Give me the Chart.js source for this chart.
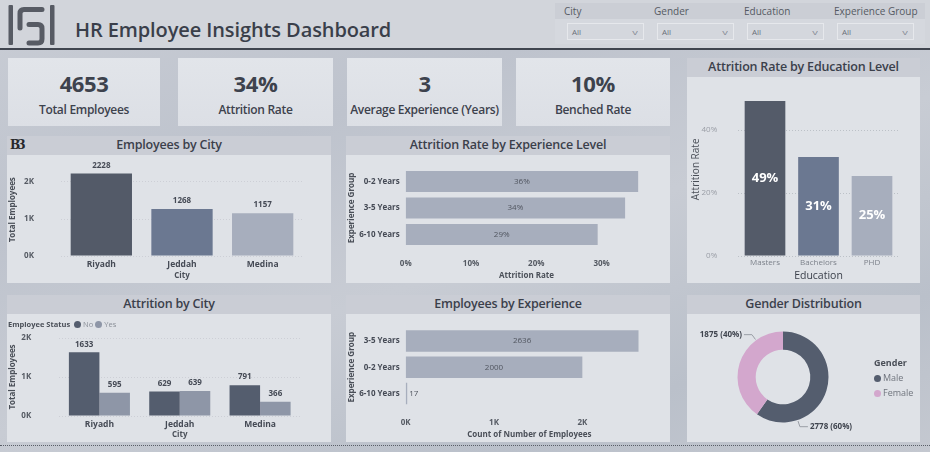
<!DOCTYPE html>
<html><head><meta charset="utf-8">
<script src="https://cdn.jsdelivr.net/npm/chart.js@4.4.0/dist/chart.umd.min.js"></script>
<style>
html,body{margin:0;padding:0;}
body{width:930px;height:452px;overflow:hidden;position:relative;font-family:'Open Sans',sans-serif;color:#3b404b;
 background:linear-gradient(160deg,#c9cdd5 0%,#bec3cd 30%,#c8ccd4 55%,#bac0ca 80%,#c4c8d0 100%);}
#header{position:absolute;left:0;top:0;width:930px;height:48px;background:#d2d5db;border-bottom:2px solid #40454f;}
#logo{position:absolute;left:4px;top:2px;}
#title{position:absolute;left:75px;top:16px;font-size:20px;font-weight:600;color:#3a3f4a;white-space:nowrap;letter-spacing:-0.1px;}
#filters{position:absolute;left:555px;top:3px;width:370px;height:41px;background:#d5d8de;}
#filterStrip{position:absolute;left:0;top:0;width:370px;height:16px;background:#cbced5;}
.flabel{position:absolute;top:1px;font-size:10px;color:#555a63;font-weight:400;white-space:nowrap;}
.fbox{position:absolute;top:20px;width:77px;height:17px;border:1px solid #e6e8ec;box-sizing:border-box;background:#d4d7dd;font-size:8px;color:#6a6f78;line-height:16px;padding-left:4px;}
.fbox span{position:absolute;right:6px;top:0;color:#8a8f98;font-size:8px;transform:scaleX(1.4);}
.kpi{position:absolute;top:58px;height:68px;background:linear-gradient(180deg,#e2e5ea,#dcdfe5);text-align:center;}
.kval{position:absolute;left:0;right:0;top:10px;font-size:22px;font-weight:700;color:#3d424d;letter-spacing:-0.4px;}
.klab{position:absolute;left:0;right:0;top:43px;font-size:12px;font-weight:600;color:#3d424d;letter-spacing:-0.3px;white-space:nowrap;}
.panel{position:absolute;background:#dfe2e7;}
.ptitle{position:absolute;left:0;top:0;right:0;height:19px;background:#cacdd5;text-align:center;font-size:12.5px;font-weight:600;color:#3b404b;line-height:18px;letter-spacing:-0.2px;white-space:nowrap;}
canvas{position:absolute;}
#dots{position:absolute;left:0;top:445px;width:930px;border-top:1px dotted #5a5f68;}
.leg{position:absolute;font-size:8px;white-space:nowrap;}
.dot{display:inline-block;width:7px;height:7px;border-radius:50%;vertical-align:-1px;margin-right:2px;}
</style></head><body>
<div id="header">
 <svg id="logo" width="54" height="46" viewBox="0 0 54 46">
  <rect x="4.5" y="3" width="4.5" height="40" rx="1" fill="#575b64"/>
  <path d="M38 7.5 H20 Q16 7.5 16 11.5 V26" stroke="#575b64" stroke-width="5" fill="none" stroke-linecap="round"/>
  <path d="M25 22.5 H34 Q38 22.5 38 26.5 V37 Q38 41 34 41 H25" stroke="#575b64" stroke-width="5" fill="none" stroke-linecap="round"/>
  <rect x="46" y="3" width="4.5" height="40" rx="1" fill="#575b64"/>
 </svg>
 <div id="title">HR Employee Insights Dashboard</div>
 <div id="filters"><div id="filterStrip"></div></div>
</div>
<div id="dots"></div>

<div class="kpi" id="k0" style="left:8px;width:152px"></div>
<div class="kpi" id="k1" style="left:178px;width:155px"></div>
<div class="kpi" id="k2" style="left:347px;width:155px"></div>
<div class="kpi" id="k3" style="left:516px;width:154px"></div>

<div class="panel" style="left:7px;top:136px;width:324px;height:147px">
 <div class="ptitle">Employees by City</div>
 <div style="position:absolute;left:3px;top:2px;font-family:'DejaVu Serif',serif;font-weight:bold;font-size:12px;color:#26282c;letter-spacing:-3px;">B3</div>
 <canvas id="c1" width="324" height="128" style="left:0;top:19px"></canvas>
</div>
<div class="panel" style="left:346px;top:136px;width:324px;height:147px">
 <div class="ptitle">Attrition Rate by Experience Level</div>
 <canvas id="c2" width="324" height="128" style="left:0;top:19px"></canvas>
</div>
<div class="panel" style="left:687px;top:58px;width:233px;height:225px">
 <div class="ptitle">Attrition Rate by Education Level</div>
 <canvas id="c3" width="233" height="206" style="left:0;top:19px"></canvas>
</div>
<div class="panel" style="left:7px;top:295px;width:324px;height:147px">
 <div class="ptitle">Attrition by City</div>
 <canvas id="c4" width="324" height="128" style="left:0;top:19px"></canvas>
 <div class="leg" style="left:1px;top:24px;font-size:7.5px;"><b style="color:#4a4f58">Employee Status</b> <span class="dot" style="background:#545d6e;margin-left:2px"></span><span style="color:#8a8f98">No</span> <span class="dot" style="background:#8e96a7"></span><span style="color:#8a8f98">Yes</span></div>
</div>
<div class="panel" style="left:346px;top:295px;width:324px;height:147px">
 <div class="ptitle">Employees by Experience</div>
 <canvas id="c5" width="324" height="128" style="left:0;top:19px"></canvas>
</div>
<div class="panel" style="left:687px;top:295px;width:233px;height:147px">
 <div class="ptitle">Gender Distribution</div>
 <canvas id="c6" width="233" height="128" style="left:0;top:19px"></canvas>
 <div class="leg" style="left:187px;top:60px;font-size:9px;line-height:15px;">
  <b style="color:#4a4f58">Gender</b><br>
  <span class="dot" style="background:#545d6e"></span><span style="color:#6f747d">Male</span><br>
  <span class="dot" style="background:#d3a7cd"></span><span style="color:#6f747d">Female</span>
 </div>
</div>

<script>
// ---------- DATA ----------
const kpiValues = ['4653', '34%', '3', '10%'];
const kpiLabels = ['Total Employees', 'Attrition Rate', 'Average Experience (Years)', 'Benched Rate'];
const filterNames = ['City', 'Gender', 'Education', 'Experience Group'];
const filterValues = ['All', 'All', 'All', 'All'];

const cities = ['Riyadh', 'Jeddah', 'Medina'];
const employeesByCity = [2228, 1268, 1157];
const cityCountTicks = [0, 1000, 2000];

const expGroupsRate = ['0-2 Years', '3-5 Years', '6-10 Years'];
const attritionRateByExp = [0.356, 0.336, 0.294];
const expRateTicks = [0, 0.1, 0.2, 0.3];

const educationLevels = ['Masters', 'Bachelors', 'PHD'];
const attritionRateByEdu = [0.492, 0.314, 0.254];
const eduRateTicks = [0, 0.2, 0.4];

const attritionNo = [1633, 629, 791];
const attritionYes = [595, 639, 366];
const attritionTicks = [0, 1000, 2000];

const expGroupsCount = ['3-5 Years', '0-2 Years', '6-10 Years'];
const employeesByExp = [2636, 2000, 17];
const expCountTicks = [0, 1000, 2000];

const genders = ['Male', 'Female'];
const genderCounts = [2778, 1875];

// ---------- HTML bits ----------
kpiValues.forEach((v, i) => {
  const k = document.getElementById('k' + i);
  k.innerHTML = '<div class="kval">' + v + '</div><div class="klab">' + kpiLabels[i] + '</div>';
});
const fp = document.getElementById('filters');
filterNames.forEach((n, i) => {
  const l = document.createElement('div'); l.className = 'flabel'; l.style.left = (9 + i * 90) + 'px'; l.textContent = n; fp.appendChild(l);
  const b = document.createElement('div'); b.className = 'fbox'; b.style.left = (12 + i * 90) + 'px';
  b.innerHTML = filterValues[i] + '<span>v</span>'; fp.appendChild(b);
});

// ---------- Chart helpers ----------
Chart.defaults.font.family = "'Open Sans', sans-serif";
Chart.defaults.animation = false;
Chart.defaults.plugins.legend.display = false;
Chart.defaults.plugins.tooltip.enabled = false;

const barLabels = {
  id: 'barLabels',
  afterDatasetsDraw(chart, args, o) {
    if (!o || !o.mode) return;
    const ctx = chart.ctx;
    chart.data.datasets.forEach((ds, di) => {
      const meta = chart.getDatasetMeta(di);
      meta.data.forEach((el, i) => {
        const v = ds.data[i];
        const txt = o.format ? o.format(v) : String(v);
        ctx.save();
        ctx.font = o.font; ctx.fillStyle = o.color; ctx.textBaseline = 'middle';
        let x, y;
        if (o.mode === 'top') { ctx.textAlign = 'center'; x = el.x; y = el.y - o.offset; }
        else if (o.mode === 'vcenter') { ctx.textAlign = 'center'; x = el.x; y = (el.y + el.base) / 2; }
        else {
          y = el.y;
          if (el.x - el.base < o.minWidth) { ctx.textAlign = 'left'; x = el.x + 2; }
          else { ctx.textAlign = 'center'; x = (el.x + el.base) / 2; }
        }
        ctx.fillText(txt, x, y);
        ctx.restore();
      });
    });
  }
};
const donutLabels = {
  id: 'donutLabels',
  afterDatasetsDraw(chart, args, o) {
    if (!o || !o.show) return;
    const ctx = chart.ctx;
    const ds = chart.data.datasets[0];
    const total = ds.data.reduce((a, b) => a + b, 0);
    chart.getDatasetMeta(0).data.forEach((arc, i) => {
      const a = arc.startAngle + 0.75 * (arc.endAngle - arc.startAngle);
      const r = arc.outerRadius;
      const ax = arc.x + Math.cos(a) * (r + 1), ay = arc.y + Math.sin(a) * (r + 1);
      const ex = arc.x + Math.cos(a) * (r + 7), ey = arc.y + Math.sin(a) * (r + 7);
      const dir = Math.cos(a) >= 0 ? 1 : -1;
      const hx = ex + dir * 8;
      ctx.save();
      ctx.strokeStyle = '#9a9ea6'; ctx.lineWidth = 1;
      ctx.beginPath(); ctx.moveTo(ax, ay); ctx.lineTo(ex, ey); ctx.lineTo(hx, ey); ctx.stroke();
      ctx.font = 'bold 8px "Open Sans"'; ctx.fillStyle = '#3f444e'; ctx.textBaseline = 'middle';
      ctx.textAlign = dir > 0 ? 'left' : 'right';
      const v = ds.data[i];
      ctx.fillText(v + ' (' + Math.round(v / total * 100) + '%)', hx + dir * 2, ey);
      ctx.restore();
    });
  }
};
Chart.register(barLabels, donutLabels);

const tickFont = { size: 8, weight: 'bold' };
const axisTitle = (t, pad) => ({ display: true, text: t, color: '#4a4f58', font: { size: 8, weight: 'bold' }, padding: pad });
const useTicks = arr => s => { s.ticks = arr.map(v => ({ value: v })); };
const kFmt = v => (v / 1000) + 'K';
const pFmt = v => Math.round(v * 100) + '%';
const fixW = w => s => { s.width = w; s.paddingTop = 0; s.paddingBottom = 0; };
const fixH = h => s => { s.height = h; s.paddingLeft = 0; s.paddingRight = 0; };
const noGrid = { display: false, drawTicks: false };
const dotGrid = { color: 'rgba(110,115,125,0.3)', drawTicks: false };
const faintGrid = { color: 'rgba(110,115,125,0.16)', drawTicks: false };

// Employees by City
new Chart(document.getElementById('c1'), {
  type: 'bar',
  data: { labels: cities, datasets: [{ data: employeesByCity, backgroundColor: ['#535a68', '#6b7891', '#a7aebd'], barPercentage: 0.76, categoryPercentage: 1 }] },
  options: {
    responsive: false,
    layout: { padding: { top: 8.5, right: 28, left: 0, bottom: 0 } },
    plugins: { barLabels: { mode: 'top', offset: 8, color: '#454a55', font: 'bold 8px "Open Sans"' } },
    scales: {
      x: { grid: noGrid, border: { display: false }, ticks: { color: '#454a55', font: { size: 8.5, weight: 'bold' }, padding: 3 },
        title: axisTitle('City', { top: 0, bottom: 2 }), afterFit: fixH(27) },
      y: { min: 0, max: 2500, ticks: { autoSkip: false, padding: 27, color: '#555a63', font: tickFont, callback: kFmt },
        afterBuildTicks: useTicks(cityCountTicks),
        grid: faintGrid, border: { display: false, dash: [1, 2] },
        title: axisTitle('Total Employees', { top: 1, bottom: 0 }), afterFit: fixW(54) }
    }
  }
});

// Attrition Rate by Experience Level
new Chart(document.getElementById('c2'), {
  type: 'bar',
  data: { labels: expGroupsRate, datasets: [{ data: attritionRateByExp, backgroundColor: '#a7aebd', barPercentage: 0.8, categoryPercentage: 1 }] },
  options: {
    responsive: false, indexAxis: 'y',
    layout: { padding: { top: 13.25, right: 22.7, left: 0, bottom: 0 } },
    plugins: { barLabels: { mode: 'hcenter', minWidth: 20, color: '#50555f', font: '8px "Open Sans"', format: pFmt } },
    scales: {
      x: { min: 0, max: 0.37, ticks: { autoSkip: false, padding: 11, color: '#555a63', font: tickFont, callback: pFmt },
        afterBuildTicks: useTicks(expRateTicks), grid: noGrid, border: { display: false },
        title: axisTitle('Attrition Rate', { top: 0, bottom: 2 }), afterFit: fixH(35.25) },
      y: { grid: noGrid, border: { display: false }, ticks: { padding: 6, color: '#454a55', font: tickFont },
        title: axisTitle('Experience Group', { top: 1, bottom: 0 }), afterFit: fixW(59.7) }
    }
  }
});

// Attrition Rate by Education Level
new Chart(document.getElementById('c3'), {
  type: 'bar',
  data: { labels: educationLevels, datasets: [{ data: attritionRateByEdu, backgroundColor: ['#545b69', '#6b7891', '#a7aebd'], barPercentage: 0.76, categoryPercentage: 1 }] },
  options: {
    responsive: false,
    layout: { padding: { top: 5.75, right: 21.25, left: 0, bottom: 0 } },
    plugins: { barLabels: { mode: 'vcenter', color: '#ffffff', font: 'bold 13px "Open Sans"', format: pFmt } },
    scales: {
      x: { grid: noGrid, border: { display: false }, ticks: { color: '#7d828b', font: { size: 8 }, padding: 2 },
        title: { display: true, text: 'Education', color: '#3b404b', font: { size: 10.5 }, padding: { top: 0, bottom: 1 } },
        afterFit: fixH(27) },
      y: { min: 0, max: 0.55, ticks: { autoSkip: false, padding: 21, color: '#9a9ea6', font: { size: 8 }, callback: pFmt },
        afterBuildTicks: useTicks(eduRateTicks),
        grid: dotGrid, border: { display: false, dash: [1, 2] },
        title: { display: true, text: 'Attrition Rate', color: '#4a4f58', font: { size: 10 }, padding: { top: 3, bottom: 0 } },
        afterFit: fixW(51.25) }
    }
  }
});

// Attrition by City
new Chart(document.getElementById('c4'), {
  type: 'bar',
  data: { labels: cities, datasets: [
    { label: 'No', data: attritionNo, backgroundColor: '#545d6e', barPercentage: 1, categoryPercentage: 0.76 },
    { label: 'Yes', data: attritionYes, backgroundColor: '#8e96a7', barPercentage: 1, categoryPercentage: 0.76 }
  ] },
  options: {
    responsive: false,
    layout: { padding: { top: 24, right: 30.75, left: 0, bottom: 0 } },
    plugins: { barLabels: { mode: 'top', offset: 8, color: '#454a55', font: 'bold 8px "Open Sans"' } },
    scales: {
      x: { grid: noGrid, border: { display: false }, ticks: { color: '#454a55', font: { size: 8.5, weight: 'bold' }, padding: 3 },
        title: axisTitle('City', { top: 0, bottom: 2 }), afterFit: fixH(26) },
      y: { min: 0, max: 2000, ticks: { autoSkip: false, padding: 28, color: '#555a63', font: tickFont, callback: kFmt },
        afterBuildTicks: useTicks(attritionTicks),
        grid: faintGrid, border: { display: false, dash: [1, 2] },
        title: axisTitle('Total Employees', { top: 1, bottom: 0 }), afterFit: fixW(52.25) }
    }
  }
});

// Employees by Experience
new Chart(document.getElementById('c5'), {
  type: 'bar',
  data: { labels: expGroupsCount, datasets: [{ data: employeesByExp, backgroundColor: '#a7aebd', barPercentage: 0.82, categoryPercentage: 1 }] },
  options: {
    responsive: false, indexAxis: 'y',
    layout: { padding: { top: 13.9, right: 17, left: 0, bottom: 0 } },
    plugins: { barLabels: { mode: 'hcenter', minWidth: 20, color: '#50555f', font: '8px "Open Sans"' } },
    scales: {
      x: { min: 0, max: 2800, ticks: { autoSkip: false, padding: 11, color: '#555a63', font: tickFont, callback: kFmt },
        afterBuildTicks: useTicks(expCountTicks), grid: noGrid, border: { display: false },
        title: axisTitle('Count of Number of Employees', { top: 0, bottom: 2 }), afterFit: fixH(35.4) },
      y: { grid: noGrid, border: { display: false }, ticks: { padding: 6, color: '#454a55', font: tickFont },
        title: axisTitle('Experience Group', { top: 1, bottom: 0 }), afterFit: fixW(59.7) }
    }
  }
});

// Gender Distribution
new Chart(document.getElementById('c6'), {
  type: 'doughnut',
  data: { labels: genders, datasets: [{ data: genderCounts, backgroundColor: ['#545d6e', '#d3a7cd'], borderWidth: 0 }] },
  options: {
    responsive: false, cutout: '60%',
    layout: { padding: { left: 50.5, right: 91.5, top: 17.5, bottom: 19.5 } },
    plugins: { donutLabels: { show: true } }
  }
});
</script>
</body></html>
